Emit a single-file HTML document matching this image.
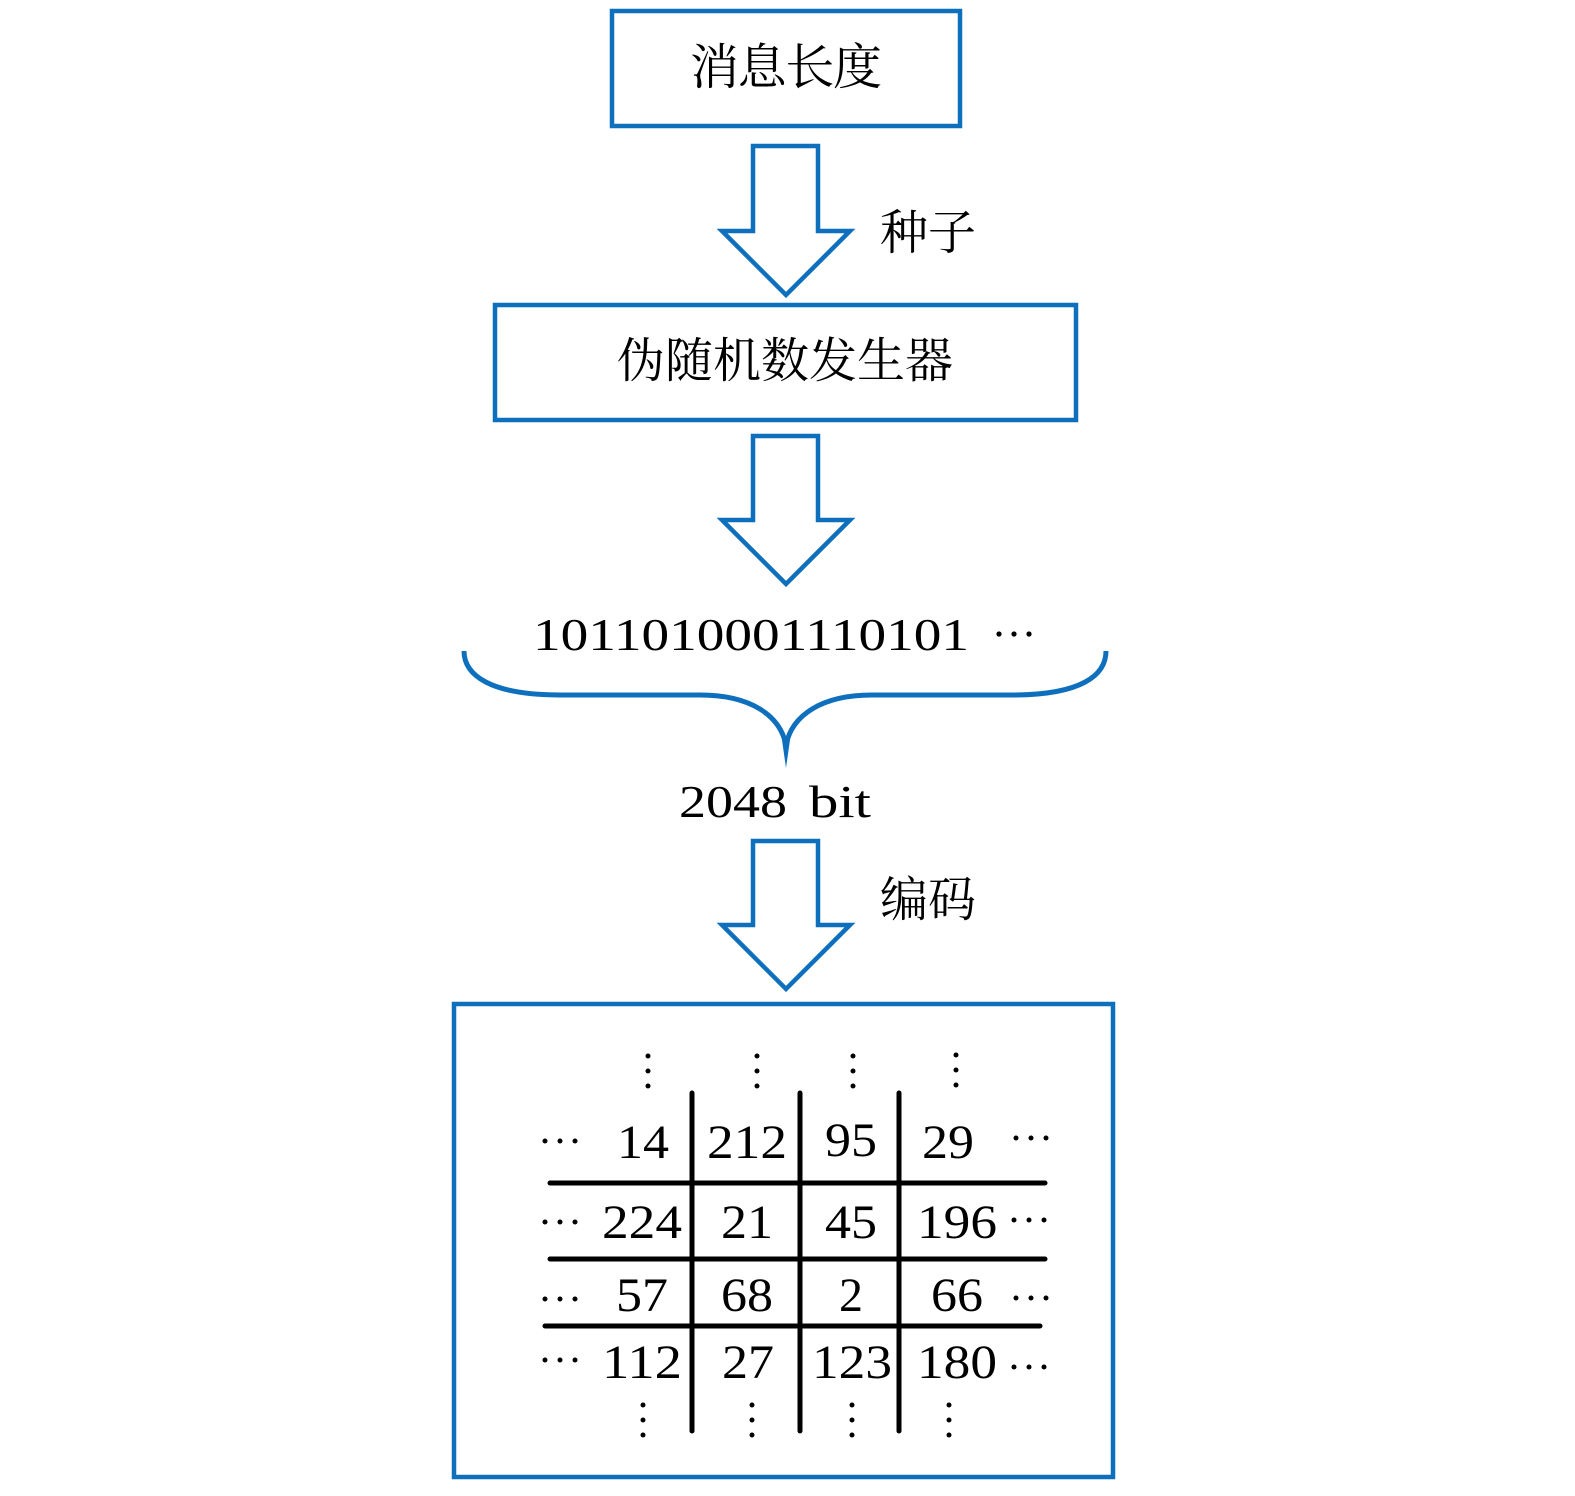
<!DOCTYPE html>
<html><head><meta charset="utf-8"><style>
html,body{margin:0;padding:0;background:#fff;}
svg{display:block;}
.cjk{font-family:"Liberation Serif","Noto Serif CJK SC",serif;fill:#000;}
.num{font-family:"Liberation Serif",serif;fill:#000;font-size:48px;text-anchor:middle;}
</style></head><body>
<svg width="1575" height="1496" viewBox="0 0 1575 1496" xmlns="http://www.w3.org/2000/svg">
<g fill="none" stroke="#0e6fbd" stroke-width="4.5">
<rect x="612" y="11" width="348" height="115"/>
<rect x="495" y="305" width="581" height="115"/>
<rect x="454" y="1004" width="659" height="473"/>
<path d="M753 146 H818 V231 H850 L786 295 L722 231 H753 Z"/>
<path d="M753 436 H818 V520 H850 L786 584 L722 520 H753 Z"/>
<path d="M753 841 H818 V925 H850 L786 989 L722 925 H753 Z"/>
</g>
<path d="M464 651 C464 675 490 695 560 695 H700 C750 695 780 715 786 745 C792 715 822 695 872 695 H1012 C1082 695 1106 675 1106 651" fill="none" stroke="#0e6fbd" stroke-width="5"/>
<path d="M782 740 L786 768 L790 740 Z" fill="#0e6fbd"/>
<text class="cjk" x="690" y="84" font-size="49" textLength="192">消息长度</text>
<text class="cjk" x="880" y="249" font-size="48" textLength="96">种子</text>
<text class="cjk" x="617" y="377" font-size="48" textLength="336">伪随机数发生器</text>
<text class="cjk" x="880" y="916" font-size="48" textLength="96">编码</text>
<text x="533" y="650" font-family="Liberation Serif, serif" font-size="46" textLength="436" lengthAdjust="spacingAndGlyphs">1011010001110101</text>
<g fill="#000"><circle cx="999" cy="634" r="2.6"/><circle cx="1014" cy="634" r="2.6"/><circle cx="1029" cy="634" r="2.6"/></g>
<text x="679" y="817" font-family="Liberation Serif, serif" font-size="46" textLength="108" lengthAdjust="spacingAndGlyphs">2048</text>
<text x="809" y="817" font-family="Liberation Serif, serif" font-size="46" textLength="62" lengthAdjust="spacingAndGlyphs">bit</text>
<g stroke="#000" stroke-width="5" stroke-linecap="round">
<line x1="692" y1="1093" x2="692" y2="1431"/>
<line x1="800" y1="1093" x2="800" y2="1431"/>
<line x1="899" y1="1093" x2="899" y2="1431"/>
<line x1="550" y1="1183" x2="1045" y2="1183"/>
<line x1="550" y1="1259" x2="1045" y2="1259"/>
<line x1="545" y1="1326" x2="1040" y2="1326"/>
</g>
<g fill="#000">
<circle cx="648" cy="1056" r="2.5"/><circle cx="648" cy="1071" r="2.5"/><circle cx="648" cy="1086" r="2.5"/>
<circle cx="757" cy="1056" r="2.5"/><circle cx="757" cy="1071" r="2.5"/><circle cx="757" cy="1086" r="2.5"/>
<circle cx="853" cy="1056" r="2.5"/><circle cx="853" cy="1071" r="2.5"/><circle cx="853" cy="1086" r="2.5"/>
<circle cx="956" cy="1055" r="2.5"/><circle cx="956" cy="1070" r="2.5"/><circle cx="956" cy="1085" r="2.5"/>
<circle cx="643" cy="1405" r="2.5"/><circle cx="643" cy="1420" r="2.5"/><circle cx="643" cy="1435" r="2.5"/>
<circle cx="752" cy="1405" r="2.5"/><circle cx="752" cy="1420" r="2.5"/><circle cx="752" cy="1435" r="2.5"/>
<circle cx="852" cy="1405" r="2.5"/><circle cx="852" cy="1420" r="2.5"/><circle cx="852" cy="1435" r="2.5"/>
<circle cx="949" cy="1405" r="2.5"/><circle cx="949" cy="1420" r="2.5"/><circle cx="949" cy="1435" r="2.5"/>
<circle cx="545" cy="1141" r="2.5"/><circle cx="560" cy="1141" r="2.5"/><circle cx="575" cy="1141" r="2.5"/>
<circle cx="1016" cy="1138" r="2.5"/><circle cx="1031" cy="1138" r="2.5"/><circle cx="1046" cy="1138" r="2.5"/>
<circle cx="545" cy="1222" r="2.5"/><circle cx="560" cy="1222" r="2.5"/><circle cx="575" cy="1222" r="2.5"/>
<circle cx="1014" cy="1220" r="2.5"/><circle cx="1029" cy="1220" r="2.5"/><circle cx="1044" cy="1220" r="2.5"/>
<circle cx="545" cy="1299" r="2.5"/><circle cx="560" cy="1299" r="2.5"/><circle cx="575" cy="1299" r="2.5"/>
<circle cx="1016" cy="1298" r="2.5"/><circle cx="1031" cy="1298" r="2.5"/><circle cx="1046" cy="1298" r="2.5"/>
<circle cx="545" cy="1360" r="2.5"/><circle cx="560" cy="1360" r="2.5"/><circle cx="575" cy="1360" r="2.5"/>
<circle cx="1014" cy="1367" r="2.5"/><circle cx="1029" cy="1367" r="2.5"/><circle cx="1044" cy="1367" r="2.5"/>
</g>
<g class="num" lengthAdjust="spacingAndGlyphs">
<text x="643" y="1158" textLength="52" lengthAdjust="spacingAndGlyphs">14</text><text x="747" y="1158" textLength="80" lengthAdjust="spacingAndGlyphs">212</text><text x="851" y="1156" textLength="52" lengthAdjust="spacingAndGlyphs">95</text><text x="948" y="1158" textLength="52" lengthAdjust="spacingAndGlyphs">29</text>
<text x="642" y="1238" textLength="80" lengthAdjust="spacingAndGlyphs">224</text><text x="747" y="1238" textLength="52" lengthAdjust="spacingAndGlyphs">21</text><text x="851" y="1238" textLength="52" lengthAdjust="spacingAndGlyphs">45</text><text x="957" y="1238" textLength="80" lengthAdjust="spacingAndGlyphs">196</text>
<text x="642" y="1311" textLength="52" lengthAdjust="spacingAndGlyphs">57</text><text x="747" y="1311" textLength="52" lengthAdjust="spacingAndGlyphs">68</text><text x="851" y="1311">2</text><text x="957" y="1311" textLength="52" lengthAdjust="spacingAndGlyphs">66</text>
<text x="642" y="1378" textLength="80" lengthAdjust="spacingAndGlyphs">112</text><text x="748" y="1378" textLength="52" lengthAdjust="spacingAndGlyphs">27</text><text x="852" y="1378" textLength="80" lengthAdjust="spacingAndGlyphs">123</text><text x="957" y="1378" textLength="80" lengthAdjust="spacingAndGlyphs">180</text>
</g>
</svg>
</body></html>
